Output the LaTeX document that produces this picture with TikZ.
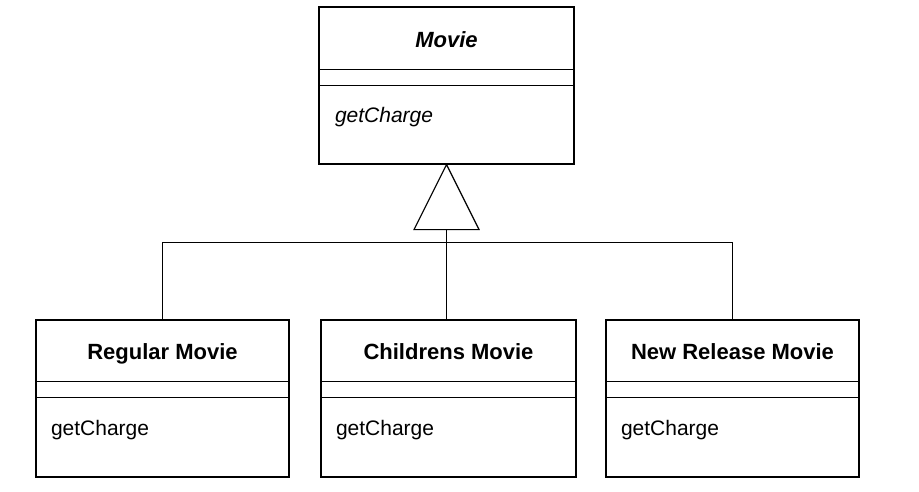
\documentclass[tikz,border=0pt]{standalone}
\usepackage{fontspec}
\setmainfont{Liberation Sans}
\usetikzlibrary{calc}
\begin{document}
\begin{tikzpicture}[x=1pt,y=-1pt,
  line width=1.2pt,
  classbox/.style={draw, rectangle, minimum width=#1, minimum height=157pt, inner sep=0pt},
  classbox/.default=254pt,
  titletext/.style={font=\fontsize{22}{26}\selectfont\bfseries, inner sep=0pt, anchor=base},
  methtext/.style={font=\fontsize{21}{25}\selectfont, inner sep=0pt, anchor=base west}]
\useasboundingbox (0,0) rectangle (919,492);
% Abstract class
\node[classbox=255pt] (movie) at (446.5,85.5) {};
\draw ($(movie.north west)+(0,63)$) -- ($(movie.north east)+(0,63)$);
\draw ($(movie.north west)+(0,79)$) -- ($(movie.north east)+(0,79)$);
\node[titletext, font=\fontsize{22}{26}\selectfont\bfseries\itshape] (movietitle) at ($(movie.north)+(0,41)$) {Movie};
\node[methtext, font=\fontsize{21}{25}\selectfont\itshape] (moviem) at ($(movie.north west)+(16,116)$) {getCharge};
% Subclasses
\node[classbox=253pt] (regular) at (162.5,398.5) {};
\node[classbox=255pt] (childrens) at (448.5,398.5) {};
\node[classbox=253pt] (newrel) at (732.5,398.5) {};
\foreach \c/\t in {regular/Regular Movie, childrens/Childrens Movie, newrel/New Release Movie}{
  \draw ($(\c.north west)+(0,62)$) -- ($(\c.north east)+(0,62)$);
  \draw ($(\c.north west)+(0,78)$) -- ($(\c.north east)+(0,78)$);
  \node[titletext] (\c title) at ($(\c.north)+(0,40)$) {\t};
  \node[methtext] (\c m) at ($(\c.north west)+(15,116)$) {getCharge};
}
% Generalization
\draw (movie.south) -- ++(-32.5,65) -- ++(65,0) -- cycle;
\coordinate (tribase) at ($(movie.south)+(0,65)$);
\coordinate (bus) at ($(movie.south)+(0,78)$);
\draw (tribase) -- (tribase |- childrens.north);
\draw (regular.north) |- (bus) -| (newrel.north);
\end{tikzpicture}
\end{document}
